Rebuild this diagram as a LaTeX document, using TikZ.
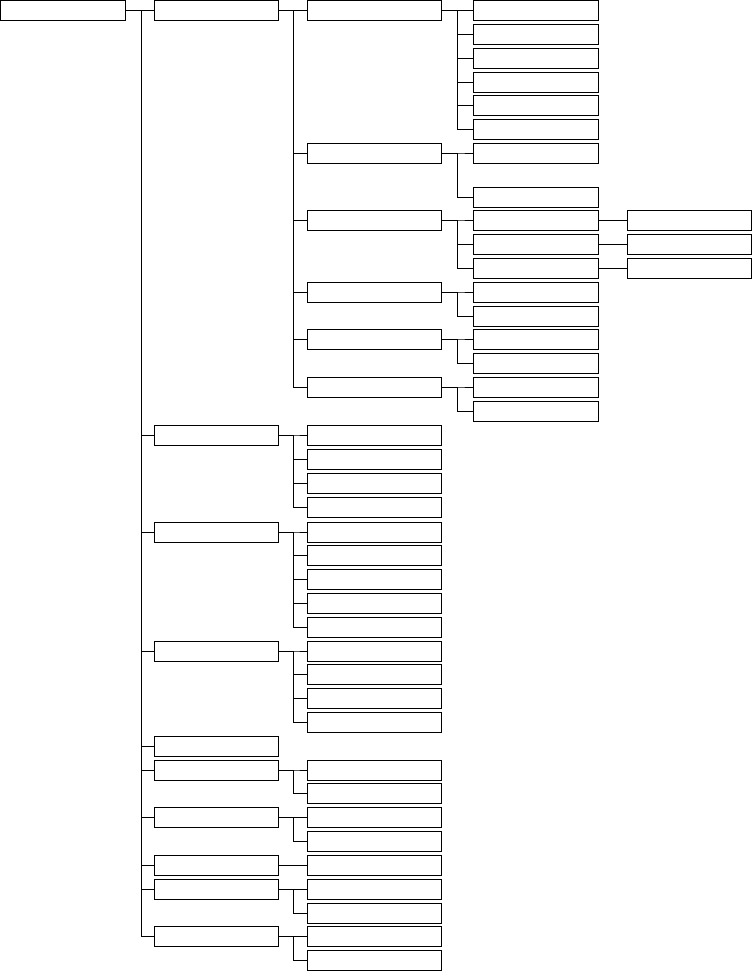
\documentclass[tikz,border=0pt]{standalone}
\begin{document}
\begin{tikzpicture}[x=1pt,y=-1pt,
  box/.style={draw,line width=0.9pt,inner sep=0pt,outer sep=0pt,minimum height=20pt,anchor=north west},
  bz/.style={box,minimum width=124.5pt},
  bl/.style={box,minimum width=124pt},
  bm/.style={box,minimum width=134pt},
  bn/.style={box,minimum width=125pt},
  bq/.style={box,minimum width=124.5pt},
  conn/.style={line width=0.9pt}]
\useasboundingbox (0,0) rectangle (752,971);
\newcommand\lnk[3]{\draw[conn] (#1.east) -- (#1.east -| #3) |- (#2.west);}
\coordinate (tA) at (141,0);
\coordinate (tB) at (293,0);
\coordinate (tC) at (457,0);
% root
\node[bz] (r) at (0.5,0.5) {};
% level 1
\foreach \n/\y in {1/0.5,2/425,3/522,4/641,5/736,6/760,7/807,8/855,9/879,10/926}{
  \node[bl] (a\n) at (154,\y) {};
  \lnk{r}{a\n}{tA}
}
% level 2 under a1
\foreach \n/\y in {1/0.5,2/143,3/210,4/282,5/329,6/377}{
  \node[bm] (c\n) at (307,\y) {};
  \lnk{a1}{c\n}{tB}
}
% level 3
\foreach \n/\y in {1/0.5,2/24,3/48,4/72,5/95,6/119}{
  \node[bn] (d1-\n) at (473,\y) {};
  \lnk{c1}{d1-\n}{tC}
}
\foreach \n/\y in {1/143,2/187}{
  \node[bn] (d2-\n) at (473,\y) {};
  \lnk{c2}{d2-\n}{tC}
}
\foreach \n/\y in {1/210,2/234,3/258}{
  \node[bn] (d3-\n) at (473,\y) {};
  \lnk{c3}{d3-\n}{tC}
  \node[bq] (e3-\n) at (627,\y) {};
  \draw[conn] (d3-\n.east) -- (e3-\n.west);
}
\foreach \n/\y in {1/282,2/306}{
  \node[bn] (d4-\n) at (473,\y) {};
  \lnk{c4}{d4-\n}{tC}
}
\foreach \n/\y in {1/329,2/353}{
  \node[bn] (d5-\n) at (473,\y) {};
  \lnk{c5}{d5-\n}{tC}
}
\foreach \n/\y in {1/377,2/401}{
  \node[bn] (d6-\n) at (473,\y) {};
  \lnk{c6}{d6-\n}{tC}
}
% level 2 under other level-1 boxes
\foreach \n/\y in {1/425,2/449,3/473,4/497}{
  \node[bm] (f2-\n) at (307,\y) {};
  \lnk{a2}{f2-\n}{tB}
}
\foreach \n/\y in {1/522,2/545,3/569,4/593,5/617}{
  \node[bm] (f3-\n) at (307,\y) {};
  \lnk{a3}{f3-\n}{tB}
}
\foreach \n/\y in {1/641,2/664,3/688,4/712}{
  \node[bm] (f4-\n) at (307,\y) {};
  \lnk{a4}{f4-\n}{tB}
}
\foreach \n/\y in {1/760,2/783}{
  \node[bm] (f6-\n) at (307,\y) {};
  \lnk{a6}{f6-\n}{tB}
}
\foreach \n/\y in {1/807,2/831}{
  \node[bm] (f7-\n) at (307,\y) {};
  \lnk{a7}{f7-\n}{tB}
}
\node[bm] (f8-1) at (307,855) {};
\draw[conn] (a8.east) -- (f8-1.west);
\foreach \n/\y in {1/879,2/903}{
  \node[bm] (f9-\n) at (307,\y) {};
  \lnk{a9}{f9-\n}{tB}
}
\foreach \n/\y in {1/926,2/950}{
  \node[bm] (f10-\n) at (307,\y) {};
  \lnk{a10}{f10-\n}{tB}
}
\end{tikzpicture}
\end{document}
